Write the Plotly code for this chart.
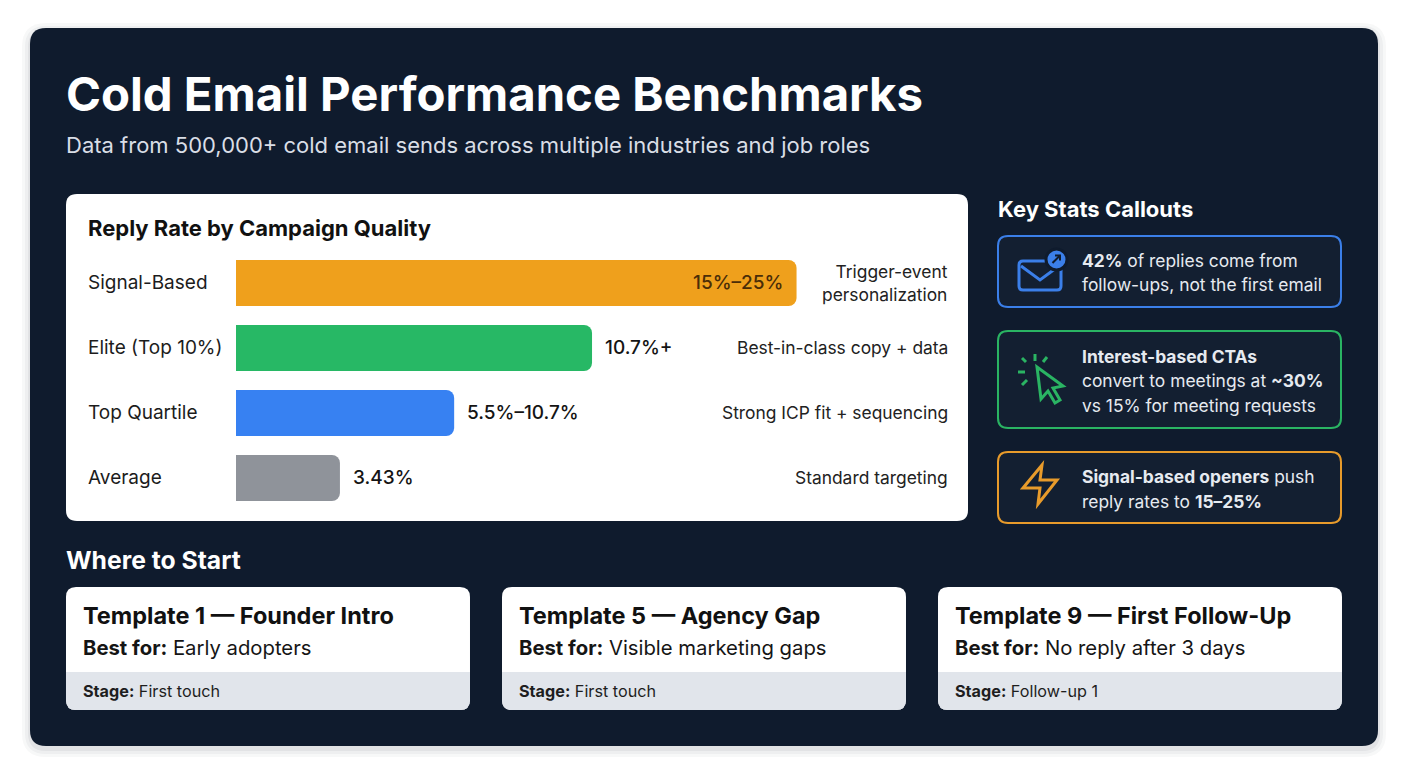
import plotly.graph_objects as go

# Figure size in pixels; layout positions below are given in page pixels
W, H = 1408, 768
OFF = 8  # the page body margin shifts the figure by 8px

# Chart data
tiers = ['Signal-Based', 'Elite (Top 10%)', 'Top Quartile', 'Average']
bar_length = [18.5, 11.75, 7.2, 3.43]          # reply rate shown by bar length (%)
value_labels = ['15%–25%', '10.7%+', '5.5%–10.7%', '3.43%']
descriptions = [['Trigger-event', 'personalization'],
                ['Best-in-class copy + data'],
                ['Strong ICP fit + sequencing'],
                ['Standard targeting']]
bar_colors = ['#EFA01C', '#27B865', '#3781F2', '#8F939A']

# Key stat callouts (lines of rich text)
callouts = [
    ['<b>42%</b> of replies come from', 'follow-ups, not the first email'],
    ['<b>Interest-based CTAs</b>', 'convert to meetings at <b>~30%</b>', 'vs 15% for meeting requests'],
    ['<b>Signal-based openers</b> push', 'reply rates to <b>15–25%</b>'],
]
callout_colors = ['#3B7FE9', '#2AB463', '#E89B2B']

# Template cards
templates = ['Template 1 — Founder Intro', 'Template 5 — Agency Gap', 'Template 9 — First Follow-Up']
best_for = ['Early adopters', 'Visible marketing gaps', 'No reply after 3 days']
stages = ['First touch', 'First touch', 'Follow-up 1']

FONT = 'Inter'
PANEL = '#0F1B2D'


def px(x):
    return (x - OFF) / W


def py(y):
    return 1 - (y - OFF) / H


def path(points, close=True):
    # points: list of (cmd, [x, y, x, y ...]) in pixels
    out = []
    for cmd, coords in points:
        pairs = ['%.5f,%.5f' % (px(coords[i]), py(coords[i + 1])) for i in range(0, len(coords), 2)]
        if cmd == 'L':
            out += ['L ' + p for p in pairs]
        else:
            out.append(cmd + ' ' + ' '.join(pairs))
    return ' '.join(out) + (' Z' if close else '')


def rrect(x0, y0, x1, y1, r, top=True, bottom=True):
    pts = []
    if top:
        pts += [('M', [x0 + r, y0]), ('L', [x1 - r, y0]), ('Q', [x1, y0, x1, y0 + r])]
    else:
        pts += [('M', [x0, y0]), ('L', [x1, y0])]
    if bottom:
        pts += [('L', [x1, y1 - r]), ('Q', [x1, y1, x1 - r, y1]),
                ('L', [x0 + r, y1]), ('Q', [x0, y1, x0, y1 - r])]
    else:
        pts += [('L', [x1, y1]), ('L', [x0, y1])]
    if top:
        pts += [('L', [x0, y0 + r]), ('Q', [x0, y0, x0 + r, y0])]
    return path(pts)


shapes = []
annotations = []


def box(x0, y0, x1, y1, r, fill, line=None, lw=0, layer='below', **kw):
    shapes.append(dict(type='path', path=rrect(x0, y0, x1, y1, r, **kw), xref='paper', yref='paper',
                       fillcolor=fill, line=dict(color=line or 'rgba(0,0,0,0)', width=lw), layer=layer))


def stroke(pts, color, lw, close=False, fill='rgba(0,0,0,0)'):
    shapes.append(dict(type='path', path=path(pts, close), xref='paper', yref='paper',
                       fillcolor=fill, line=dict(color=color, width=lw), layer='above'))


def text(x, y, s, size, color, anchor='left', weight=None, yanchor='middle'):
    f = dict(family=FONT, size=size, color=color)
    if weight:
        f['weight'] = weight
    annotations.append(dict(x=px(x), y=py(y), xref='paper', yref='paper', text=s, showarrow=False,
                            xanchor=anchor, yanchor=yanchor, font=f))


# soft shadow + dark panel
for i, a in enumerate([0.05, 0.04, 0.03]):
    d = 2 + i * 3
    box(30 - d, 28 - d + 3, 1378 + d, 746 + d + 3, 16 + d, 'rgba(15,27,45,%.2f)' % a)
box(30, 28, 1378, 746, 16, PANEL)

# header
text(64, 94, '<b>Cold Email Performance Benchmarks</b>', 47.3, '#FFFFFF')
text(64, 145, 'Data from 500,000+ cold email sends across multiple industries and job roles', 22, '#D9DEE6')

# chart card
box(66, 194, 968, 521, 11, '#FFFFFF')
text(86, 228, '<b>Reply Rate by Campaign Quality</b>', 22, '#111111')

for i, t in enumerate(tiers):
    annotations.append(dict(x=px(86), y=t, xref='paper', yref='y', text=t, showarrow=False,
                            xanchor='left', yanchor='middle',
                            font=dict(family=FONT, size=19, color='#1C1C1C')))
    desc = descriptions[i]
    annotations.append(dict(x=px(950), y=t, xref='paper', yref='y', text='<br>'.join(desc),
                            showarrow=False, xanchor='right', yanchor='middle', align='right',
                            font=dict(family=FONT, size=17.4, color='#222222')))
    inside = i == 0
    annotations.append(dict(x=bar_length[i], y=t, xref='x', yref='y', text=value_labels[i],
                            showarrow=False, xanchor='right' if inside else 'left',
                            xshift=-12 if inside else 11, yanchor='middle',
                            font=dict(family=FONT, size=19, weight=500,
                                      color='#4A2D08' if inside else '#141414')))

# key stats callouts
text(996, 209, '<b>Key Stats Callouts</b>', 22, '#FFFFFF')
callout_boxes = [(236, 307), (331, 428), (452, 523)]
callout_lines_y = [[260, 285], [356, 381, 405], [476, 501]]
for c, (y0, y1), ys, col in zip(callouts, callout_boxes, callout_lines_y, callout_colors):
    box(998, y0, 1341, y1, 10, 'rgba(255,255,255,0.02)', col, 2)
    for line, y in zip(c, ys):
        text(1080, y, line, 17.4, '#E6EAF0')

# icon 1: envelope with badge
blue = callout_colors[0]
box(1019, 261, 1061, 290, 4, 'rgba(0,0,0,0)', blue, 3, layer='above')
stroke([('M', [1021, 266]), ('L', [1040, 280, 1059, 266])], blue, 3)
shapes.append(dict(type='circle', xref='paper', yref='paper', x0=px(1046), x1=px(1067),
                   y0=py(249), y1=py(270), fillcolor=blue, line=dict(color=PANEL, width=3), layer='above'))
stroke([('M', [1052.5, 263]), ('L', [1060, 255.5])], PANEL, 2)
stroke([('M', [1055, 255.5]), ('L', [1060, 255.5, 1060, 260.5])], PANEL, 2)

# icon 2: click cursor
green = callout_colors[1]
stroke([('M', [1037, 367]), ('L', [1041, 399, 1048, 391, 1055, 403, 1060, 400, 1053, 388, 1063, 386])],
       green, 3, close=True)
for seg in [(1035, 354, 1035, 361), (1043, 362, 1047, 357), (1022, 358, 1026, 362),
            (1018, 372, 1025, 372), (1022, 385, 1027, 380)]:
    stroke([('M', seg[:2]), ('L', seg[2:])], green, 3)

# icon 3: lightning bolt
orange = callout_colors[2]
stroke([('M', [1042, 465]), ('L', [1023, 488, 1040, 488, 1038, 504, 1057, 480, 1040, 480])],
       orange, 3, close=True)

# where to start
text(64, 560, '<b>Where to Start</b>', 24.7, '#FFFFFF')
card_x = [66, 502, 938]
for x0, t, b, s in zip(card_x, templates, best_for, stages):
    box(x0, 587, x0 + 404, 710, 10, '#FFFFFF')
    box(x0, 672, x0 + 404, 710, 10, '#E1E5EB', top=False)
    text(x0 + 15, 615, '<b>' + t + '</b>', 23.5, '#111111')
    text(x0 + 15, 647, '<b>Best for:</b> ' + b, 20.3, '#151515')
    text(x0 + 15, 691, '<b>Stage:</b> ' + s, 16.2, '#1E1E1E')

fig = go.Figure(go.Bar(
    x=bar_length, y=tiers, orientation='h',
    marker=dict(color=bar_colors, line=dict(width=0)),
    hoverinfo='skip'
))

fig.update_layout(
    width=W, height=H,
    margin=dict(l=0, r=0, t=0, b=0),
    paper_bgcolor='#FFFFFF', plot_bgcolor='rgba(0,0,0,0)',
    showlegend=False,
    bargap=0.29, barcornerradius=8,
    xaxis=dict(domain=[px(236), px(950)], range=[0, (950 - 236) / 30.3], visible=False, fixedrange=True),
    yaxis=dict(domain=[py(510.5), py(250.5)], categoryorder='array', categoryarray=tiers,
               autorange='reversed', visible=False, fixedrange=True),
    shapes=shapes,
    annotations=annotations,
)

fig.write_html('out.html')
